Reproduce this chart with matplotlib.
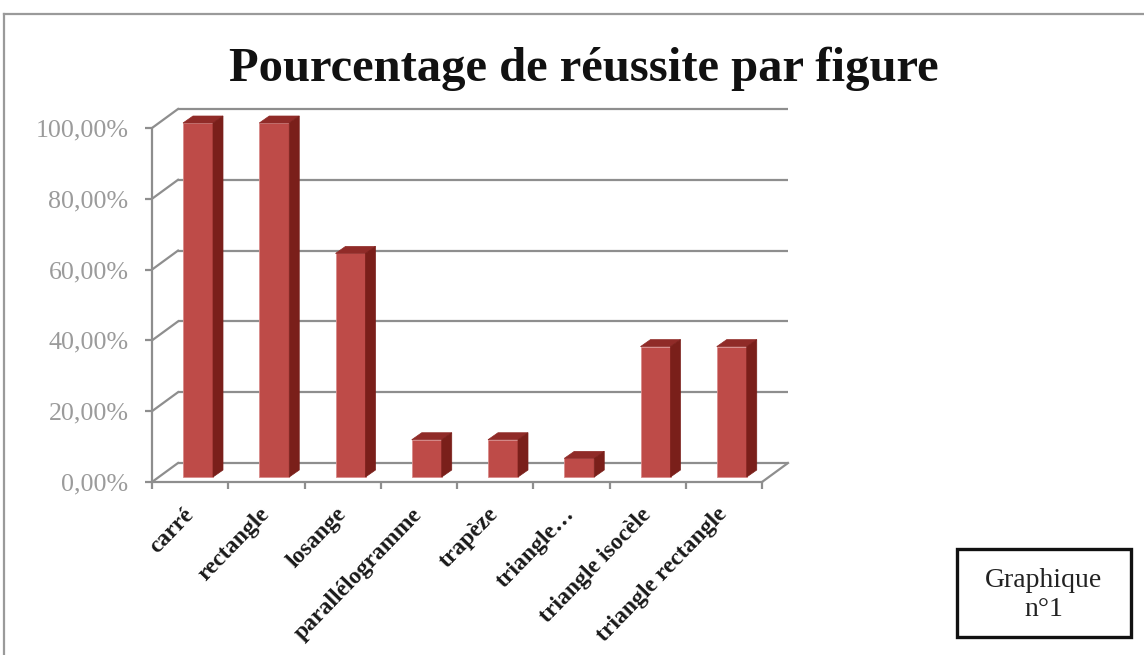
import matplotlib
matplotlib.use("Agg")
import matplotlib.pyplot as plt
from matplotlib.patches import Polygon, Rectangle
from matplotlib.lines import Line2D

# ---- data ----
categories = ["carré", "rectangle", "losange", "parallélogramme", "trapèze",
              "triangle…", "triangle isocèle", "triangle rectangle"]
values = [100.0, 100.0, 63.16, 10.53, 10.53, 5.26, 36.84, 36.84]
yticks = [0, 20, 40, 60, 80, 100]
ytick_labels = ["0,00%", "20,00%", "40,00%", "60,00%", "80,00%", "100,00%"]
title = "Pourcentage de réussite par figure"
note = "Graphique\nn°1"

# ---- style ----
W, H = 1144, 655
SERIF = ["Liberation Serif", "DejaVu Serif"]
GRID = "#8e8e8e"
FRONT = "#BE4B48"
SIDE = "#7A1F1A"
TOP = "#902B28"
PX_X = 76.25          # pixels per category slot
PX_Y = 3.54           # pixels per percent
WALL_DX, WALL_DY = 26 / PX_X, 19 / PX_Y      # back wall depth
BAR_OFF = 5 / PX_Y                            # bar front plane raised
BAR_DX, BAR_DY = 10 / PX_X, 7 / PX_Y          # bar depth
BAR_LEFT, BAR_W = 31 / PX_X, 30 / PX_X

fig = plt.figure(figsize=(W / 100, H / 100), dpi=100)
ax_l, ax_r, ax_t, ax_b = 152, 800, 100, 495
ax = fig.add_axes([ax_l / W, (H - ax_b) / H, (ax_r - ax_l) / W, (ax_b - ax_t) / H])
ax.set_xlim(0, (ax_r - ax_l) / PX_X)
ax.set_ylim(-(ax_b - 482) / PX_Y, (482 - ax_t) / PX_Y)
ax.patch.set_alpha(0)

n = len(categories)
lw = 1.6
# back wall gridlines + left wall diagonals
for t in yticks:
    ax.plot([WALL_DX, n + WALL_DX], [t + WALL_DY, t + WALL_DY], color=GRID, lw=lw, zorder=1,
            solid_capstyle="butt")
    ax.plot([0, WALL_DX], [t, t + WALL_DY], color=GRID, lw=lw, zorder=1)
# floor right edge
ax.plot([n, n + WALL_DX], [0, WALL_DY], color=GRID, lw=lw, zorder=1)

# bars
xs = [i + BAR_LEFT for i in range(n)]
ax.bar(xs, values, width=BAR_W, bottom=BAR_OFF, align="edge", color=FRONT,
       edgecolor="#D98C8A", linewidth=0.6, zorder=3)
for x0, v in zip(xs, values):
    top = BAR_OFF + v
    x1 = x0 + BAR_W
    ax.add_patch(Polygon([(x0, top), (x1, top), (x1 + BAR_DX, top + BAR_DY),
                          (x0 + BAR_DX, top + BAR_DY)], closed=True,
                         facecolor=TOP, edgecolor=TOP, lw=0.5, zorder=3))
    ax.add_patch(Polygon([(x1, BAR_OFF), (x1, top), (x1 + BAR_DX, top + BAR_DY),
                          (x1 + BAR_DX, BAR_OFF + BAR_DY)], closed=True,
                         facecolor=SIDE, edgecolor=SIDE, lw=0.5, zorder=3))

# axes spines / ticks
for s in ["top", "right"]:
    ax.spines[s].set_visible(False)
ax.spines["bottom"].set_position(("data", 0))
ax.spines["left"].set_bounds(0, 100)
ax.spines["bottom"].set_bounds(0, n)
for s in ["left", "bottom"]:
    ax.spines[s].set_color(GRID)
    ax.spines[s].set_linewidth(lw)
ax.set_yticks(yticks)
ax.set_yticklabels(ytick_labels, family=SERIF, fontsize=18.7, color="#9b9b9b")
ax.tick_params(axis="y", direction="out", length=5, width=lw, color=GRID, pad=12)

ax.set_xticks([i + 0.5 for i in range(n)])
ax.set_xticklabels(categories, family=SERIF, fontsize=17, fontweight="bold",
                   color="#1a1a1a", rotation=46, ha="right", va="center",
                   rotation_mode="anchor")
ax.tick_params(axis="x", length=0, pad=21)
ax.set_xticks(range(n + 1), minor=True)
ax.tick_params(axis="x", which="minor", direction="out", length=5, width=lw, color=GRID)

# title
fig.text(584 / W, 1 - 69 / H, title, family=SERIF, fontweight="bold", fontsize=35,
         ha="center", va="center", color="#111111")

# chart border (gray)
fig.add_artist(Line2D([4 / W, 4 / W], [0, 1 - 14 / H], color="#9a9a9a", lw=1.6,
                      transform=fig.transFigure))
fig.add_artist(Line2D([4 / W, 1], [1 - 14 / H, 1 - 14 / H], color="#9a9a9a", lw=1.6,
                      transform=fig.transFigure))

# note box
bx0, bx1, by0, by1 = 957, 1131, 549, 637
fig.add_artist(Rectangle((bx0 / W, 1 - by1 / H), (bx1 - bx0) / W, (by1 - by0) / H,
                         transform=fig.transFigure, fill=False, edgecolor="#111111", lw=2.4))
fig.text((bx0 + bx1) / 2 / W, 1 - 595 / H, note, family=SERIF, fontsize=20,
         ha="center", va="center", linespacing=1.2, color="#222222")

fig.savefig("out.png", dpi=100)
